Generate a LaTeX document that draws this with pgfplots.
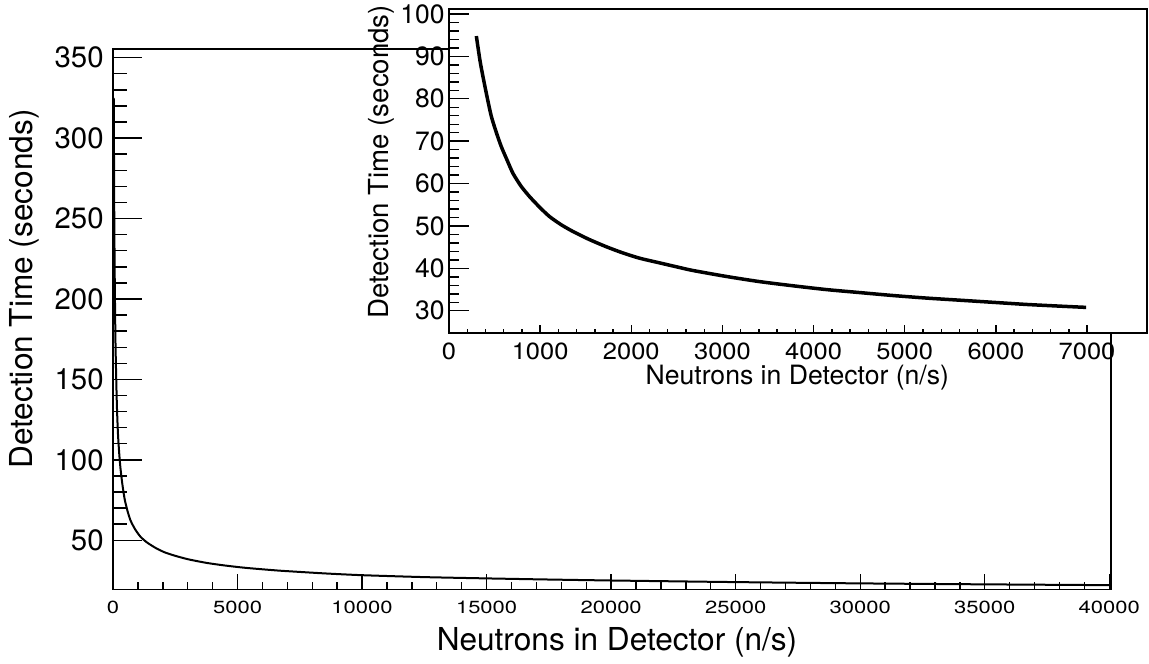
\documentclass[border=0pt]{standalone}
\usepackage{fontspec}
\setmainfont{TeX Gyre Heros}
\usepackage{graphicx}
\usepackage{pgfplots}
\usepackage{pgfplotstable}
\pgfplotsset{compat=1.18}
\pgfplotsset{/pgf/number format/assume math mode=true, /pgf/number format/1000 sep={}, scaled ticks=false}

\pgfplotstableread{
x y
30 325
40 290
50 255
65 222
80 198
100 173
130 150
160 132
200 116
250 104
300 94.8
373 85.2
465 75.8
574 68.7
702 62.4
885 56.9
1104 52.2
1360 48.7
1726 45.1
2091 42.4
2530 40.2
3042 38.1
3772 35.9
4503 34.3
5235 33.0
5965 32.0
6696 31.1
7000 30.8
8500 29.4
10000 28.3
12500 27.1
15000 26.3
17500 25.6
20000 25.0
25000 24.0
30000 23.2
35000 22.6
40000 22.1
}\maindata

\pgfplotstableread{
x y
300 94.8
340 89.0
373 85.2
420 80.2
465 75.8
520 72.0
574 68.7
640 65.4
702 62.4
790 59.4
885 56.9
1000 54.3
1104 52.2
1230 50.3
1360 48.7
1540 46.8
1726 45.1
1900 43.7
2091 42.4
2310 41.3
2530 40.2
2676 39.5
3042 38.1
3400 36.9
3772 35.9
4140 35.0
4503 34.3
4870 33.6
5235 33.0
5600 32.5
5965 32.0
6330 31.5
6696 31.1
6990 30.8
}\insetdata

\begin{document}
\begin{tikzpicture}
\useasboundingbox (-56.5pt,-36.75pt) rectangle (518pt,294.75pt);
% main axis: box, x ticks, curve, titles
\begin{axis}[
  at={(0pt,0pt)}, anchor=south west, scale only axis,
  width=499pt, height=270.25pt,
  xmin=0, xmax=40070, ymin=19.4, ymax=355.4,
  axis line style={line width=0.9pt},
  xtick={0,5000,...,40000}, minor x tick num=4, xtick pos=bottom,
  ytick=\empty, scaled x ticks=false,
  tick align=inside, major tick length=8pt, minor tick length=4pt,
  every tick/.style={black, line width=0.7pt},
  xticklabel style={font=\fontsize{8.8pt}{10pt}\selectfont, anchor=north, inner sep=0pt, yshift=-5.5pt},
  xticklabel={\scalebox{1.25}[1]{\pgfmathprintnumber[fixed,precision=0]{\tick}}},
  xlabel={Neutrons in Detector (n/s)},
  xlabel style={at={(axis description cs:0.505,-0.098)}, anchor=center, font=\fontsize{15.8pt}{18pt}\selectfont},
  ylabel={Detection Time (seconds)},
  ylabel style={at={(axis description cs:-0.0891,0.556)}, anchor=center, font=\fontsize{15.8pt}{18pt}\selectfont},
]
\addplot[black, line width=1pt, no marks, smooth, tension=0.4] table[x=x,y=y]{\maindata};
\end{axis}
% main axis: y ticks
\begin{axis}[
  at={(0pt,0pt)}, anchor=south west, scale only axis,
  width=499pt, height=270.25pt,
  xmin=0, xmax=40070, ymin=19.4, ymax=355.4,
  axis line style={draw=none},
  xtick=\empty,
  ytick={50,100,...,350}, minor y tick num=4, ytick pos=left,
  tick align=inside, major tick length=14.5pt, minor tick length=7pt,
  every tick/.style={black, line width=0.7pt},
  yticklabel style={font=\fontsize{14.7pt}{16pt}\selectfont, anchor=east, inner sep=0pt, xshift=-4.5pt},
]
\end{axis}
% inset: box, x ticks, curve, titles
\begin{axis}[
  at={(168pt,128.25pt)}, anchor=south west, scale only axis,
  width=349pt, height=162pt,
  xmin=0, xmax=7658, ymin=24.76, ymax=101.18,
  axis background/.style={fill=white},
  axis line style={line width=0.9pt},
  xtick={0,1000,...,7000}, minor x tick num=4, xtick pos=bottom,
  ytick=\empty, scaled x ticks=false,
  tick align=inside, major tick length=4.2pt, minor tick length=1.8pt,
  every tick/.style={black, line width=0.7pt},
  xticklabel style={font=\fontsize{11.7pt}{13pt}\selectfont, anchor=north, inner sep=0pt, yshift=-5pt},
  xticklabel={\scalebox{1.09}[1]{\pgfmathprintnumber[fixed,precision=0]{\tick}}},
  xlabel={Neutrons in Detector (n/s)},
  xlabel style={at={(axis description cs:0.499,-0.139)}, anchor=center, font=\fontsize{13.3pt}{15pt}\selectfont},
  ylabel={Detection Time (seconds)},
  ylabel style={at={(axis description cs:-0.0974,0.528)}, anchor=center, font=\fontsize{13.8pt}{15pt}\selectfont},
]
\addplot[black, line width=1.75pt, no marks, smooth, tension=0.4] table[x=x,y=y]{\insetdata};
\end{axis}
% inset: y ticks
\begin{axis}[
  at={(168pt,128.25pt)}, anchor=south west, scale only axis,
  width=349pt, height=162pt,
  xmin=0, xmax=7658, ymin=24.76, ymax=101.18,
  axis line style={draw=none},
  xtick=\empty,
  ytick={30,40,...,100}, minor y tick num=4, ytick pos=left,
  tick align=inside, major tick length=10pt, minor tick length=5pt,
  every tick/.style={black, line width=0.7pt},
  yticklabel style={font=\fontsize{13.25pt}{15pt}\selectfont, anchor=east, inner sep=0pt, xshift=-2pt},
]
\end{axis}
\end{tikzpicture}
\end{document}
